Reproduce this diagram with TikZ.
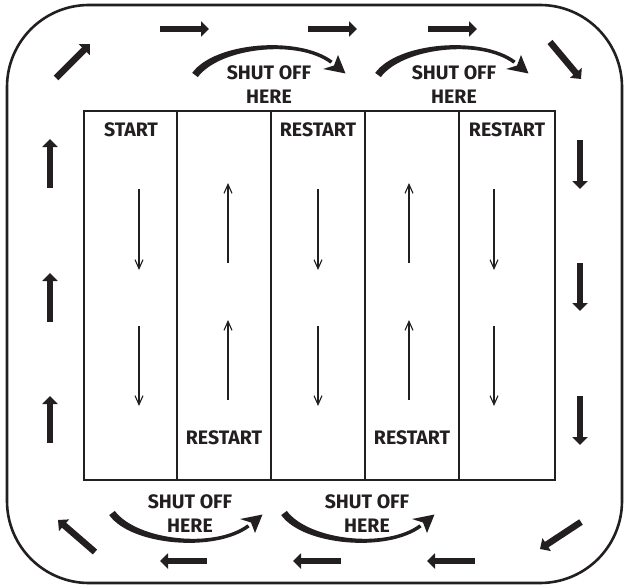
\documentclass[tikz,border=0pt]{standalone}
\usepackage{fontspec}
\setmainfont{Fira Sans}
\usetikzlibrary{arrows.meta}
\definecolor{ink}{RGB}{35,31,32}
\tikzset{
  lbl/.style={text=ink,font=\fontsize{19.5}{24}\selectfont\bfseries,inner sep=0pt,align=center},
  gridline/.style={draw=ink,line width=1.3pt},
  thin arrow/.style={draw=ink,line width=1.1pt,-{Straight Barb[length=9pt,width=8pt]}},
  thick arrow/.style={draw=ink,line width=6.5pt,-{Triangle[length=8pt,width=15pt]}},
}
\newcommand{\curvedarrow}{%
  \fill[ink] (-2.8,-2.1) .. controls (19,-32.5) and (103,-40) .. (137.6,-14.2)
     -- (135.4,-11.4) .. controls (103,-36) and (25,-27.5) .. (2.8,2.1) -- cycle;
  \fill[ink] (150.5,-1.5) -- (143,-20) -- (139,-9.5) -- (128,-6) -- cycle;
}
\begin{document}
\begin{tikzpicture}[x=1pt,y=-1pt]
\useasboundingbox (0,0) rectangle (624,586);
% outer rounded frame
\draw[ink,line width=2.6pt,rounded corners=82pt] (7,5) rectangle (622,583);
% grid
\draw[gridline] (84,111) rectangle (555,480);
\foreach \x in {177,271,365,459} \draw[gridline] (\x,111) -- (\x,480);
% column labels
\node[lbl] (start) at (131,130) {START};
\node[lbl] (rs1) at (318,130) {RESTART};
\node[lbl] (rs2) at (507,130) {RESTART};
\node[lbl] (rs3) at (224,438) {RESTART};
\node[lbl] (rs4) at (412,438) {RESTART};
% thin arrows
\coordinate (a1s) at (139,189); \coordinate (a1e) at (139,270);
\coordinate (a2s) at (139,326); \coordinate (a2e) at (139,406);
\coordinate (b1s) at (228,263); \coordinate (b1e) at (228,183);
\coordinate (b2s) at (228,400); \coordinate (b2e) at (228,320);
\coordinate (c1s) at (318,189); \coordinate (c1e) at (318,270);
\coordinate (c2s) at (318,326); \coordinate (c2e) at (318,406);
\coordinate (d1s) at (409,263); \coordinate (d1e) at (409,183);
\coordinate (d2s) at (409,400); \coordinate (d2e) at (409,320);
\coordinate (e1s) at (494,189); \coordinate (e1e) at (494,270);
\coordinate (e2s) at (494,326); \coordinate (e2e) at (494,406);
\foreach \p in {a1,a2,b1,b2,c1,c2,d1,d2,e1,e2} \draw[thin arrow] (\p s) -- (\p e);
% shut off labels
\node[lbl] (so1) at (269,85) {SHUT OFF\\HERE};
\node[lbl] (so2) at (454,85) {SHUT OFF\\HERE};
\node[lbl] (so3) at (190,514) {SHUT OFF\\HERE};
\node[lbl] (so4) at (367,514) {SHUT OFF\\HERE};
% curved arrows
\begin{scope}[shift={(195,75)}] \curvedarrow \end{scope}
\begin{scope}[shift={(378,75)}] \curvedarrow \end{scope}
\begin{scope}[shift={(112,513)},yscale=-1] \curvedarrow \end{scope}
\begin{scope}[shift={(284,513)},yscale=-1] \curvedarrow \end{scope}
% thick circulation arrows
\coordinate (t1s) at (160,29); \coordinate (t1e) at (209,29);
\coordinate (t2s) at (308,29); \coordinate (t2e) at (357,29);
\coordinate (t3s) at (428,29); \coordinate (t3e) at (477,29);
\coordinate (tls) at (56,78); \coordinate (tle) at (90,44);
\coordinate (trs) at (550,42); \coordinate (tre) at (581,79);
\coordinate (r1s) at (580,140); \coordinate (r1e) at (580,189);
\coordinate (r2s) at (580,263); \coordinate (r2e) at (580,311);
\coordinate (r3s) at (580,396); \coordinate (r3e) at (580,445);
\coordinate (l1s) at (50,188); \coordinate (l1e) at (50,139);
\coordinate (l2s) at (50,322); \coordinate (l2e) at (50,273);
\coordinate (l3s) at (50,443); \coordinate (l3e) at (50,396);
\coordinate (b1s) at (207,561); \coordinate (b1e) at (160,561);
\coordinate (b2s) at (341,561); \coordinate (b2e) at (293,561);
\coordinate (b3s) at (475,561); \coordinate (b3e) at (427,561);
\coordinate (bls) at (95,552); \coordinate (ble) at (58,520);
\coordinate (brs) at (581,522); \coordinate (bre) at (540,549);
\foreach \p in {t1,t2,t3,tl,tr,r1,r2,r3,l1,l2,l3,b1,b2,b3,bl,br} \draw[thick arrow] (\p s) -- (\p e);
\end{tikzpicture}
\end{document}
